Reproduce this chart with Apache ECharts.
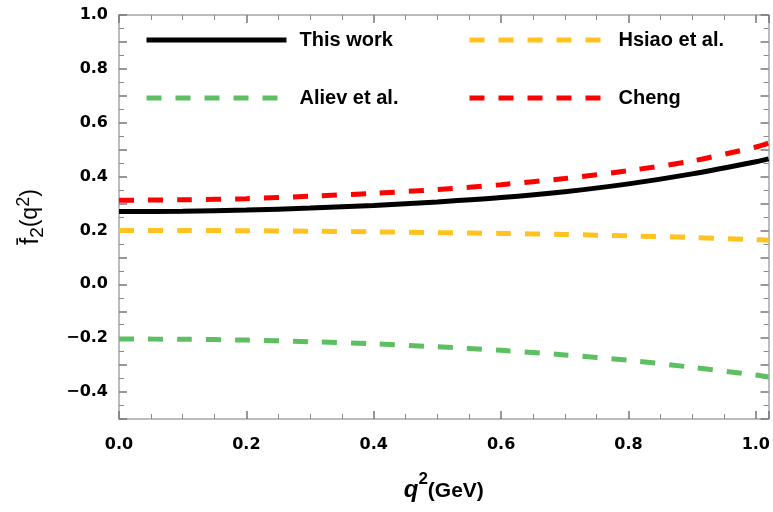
<!DOCTYPE html>
<html>
<head>
<meta charset="utf-8">
<script src="https://cdn.jsdelivr.net/npm/echarts@6/dist/echarts.min.js"></script>
<style>html,body{margin:0;padding:0;background:#fff;}#c{width:773px;height:512px;}</style>
</head>
<body>
<div id="c"></div>
<script>
// q^2 sample points (GeV)
const qValues   = [0, 0.1, 0.2, 0.3, 0.4, 0.5, 0.6, 0.7, 0.8, 0.9, 1.0, 1.02];
// f2-bar(q^2)
const thisWork  = [0.270, 0.271, 0.276, 0.283, 0.293, 0.306, 0.322, 0.344, 0.373, 0.410, 0.455, 0.466];
const hsiao     = [0.200, 0.200, 0.199, 0.197, 0.195, 0.192, 0.189, 0.185, 0.180, 0.174, 0.166, 0.164];
const aliev     = [-0.203, -0.204, -0.207, -0.213, -0.221, -0.232, -0.245, -0.262, -0.282, -0.308, -0.337, -0.344];
const cheng     = [0.312, 0.314, 0.318, 0.327, 0.338, 0.352, 0.370, 0.393, 0.422, 0.458, 0.510, 0.525];
const seriesNames = ['This work', 'Hsiao et al.', 'Aliev et al.', 'Cheng'];
const xTickLabels = ['0.0', '0.2', '0.4', '0.6', '0.8', '1.0'];
const yTickLabels = ['\u22120.4', '\u22120.2', '0.0', '0.2', '0.4', '0.6', '0.8', '1.0'];

const pairs = arr => qValues.map((q, i) => [q, arr[i]]);
const chart = echarts.init(document.getElementById('c'), null, {renderer: 'canvas'});

const frameLine = {show: true, onZero: false, lineStyle: {color: '#a6a6a6', width: 1.5}};
const tickStyle = {show: true, inside: true, length: 8, lineStyle: {color: '#777', width: 1.5}};
const minorStyle = {show: true, length: 5, lineStyle: {color: '#888', width: 1}};
const labelFont = {fontFamily: 'DejaVu Sans', fontWeight: 'bold', fontSize: 16, color: '#000'};

function xLabel(v) {
  const k = Math.round(v / 0.2);
  if (Math.abs(v - k * 0.2) > 1e-6) return '';
  return xTickLabels[k] || '';
}
function yLabel(v) {
  const k = Math.round(v / 0.2);
  if (Math.abs(v - k * 0.2) > 1e-6) return '';
  return yTickLabels[k + 2] || '';
}

const dashed = [15, 14];
const legendCommon = {
  orient: 'vertical', top: 30, padding: 0,
  itemWidth: 140, itemHeight: 20, itemGap: 38,
  itemStyle: {color: 'rgba(0,0,0,0)', borderWidth: 0, opacity: 0},
  lineStyle: {width: 5}
};
const option = {
  animation: false,
  backgroundColor: '#fff',
  grid: {left: 119, right: 3, top: 15, bottom: 93, containLabel: false},
  legend: [
    Object.assign({}, legendCommon, {
      data: [seriesNames[0], seriesNames[2]], left: 144,
      textStyle: {fontFamily: 'Liberation Sans', fontWeight: 'bold', fontSize: 20, lineHeight: 20, color: '#000', padding: [0, 0, 0, 8]}
    }),
    Object.assign({}, legendCommon, {
      data: [seriesNames[1], seriesNames[3]], left: 467,
      textStyle: {fontFamily: 'Liberation Sans', fontWeight: 'bold', fontSize: 20, lineHeight: 20, color: '#000', padding: [0, 0, 0, 4]}
    })
  ],
  xAxis: [
    {
      type: 'value', min: 0, max: 1.02, interval: 0.2, position: 'bottom',
      axisLine: frameLine, axisTick: tickStyle,
      minorTick: Object.assign({splitNumber: 4}, minorStyle),
      splitLine: {show: false}, minorSplitLine: {show: false},
      axisLabel: Object.assign({margin: 18, formatter: xLabel, showMaxLabel: false}, labelFont),
      name: '{q|q}{sup|2}{u|(GeV)}', nameLocation: 'middle', nameGap: 52,
      nameTextStyle: {
        rich: {
          q: {fontFamily: 'Liberation Sans', fontStyle: 'italic', fontWeight: 'bold', fontSize: 24, color: '#000', lineHeight: 31, verticalAlign: 'bottom'},
          sup: {fontFamily: 'Liberation Sans', fontWeight: 'bold', fontSize: 17, color: '#000', lineHeight: 31, verticalAlign: 'top'},
          u: {fontFamily: 'Liberation Sans', fontWeight: 'bold', fontSize: 21, color: '#000', lineHeight: 31, verticalAlign: 'bottom'}
        }
      }
    },
    {
      type: 'value', min: 0, max: 1.02, interval: 0.2, position: 'top',
      axisLine: frameLine, axisTick: tickStyle,
      minorTick: Object.assign({splitNumber: 4}, minorStyle),
      splitLine: {show: false}, axisLabel: {show: false}
    }
  ],
  yAxis: [
    {
      type: 'value', min: -0.5, max: 1.0, interval: 0.1, position: 'left',
      axisLine: frameLine, axisTick: tickStyle,
      minorTick: Object.assign({splitNumber: 2}, minorStyle),
      splitLine: {show: false}, minorSplitLine: {show: false},
      axisLabel: Object.assign({margin: 11, formatter: yLabel}, labelFont),
      name: '{f|f\u0304}{sub|2}{n|(q}{sup|2}{n|)}', nameLocation: 'middle', nameGap: 72, nameRotate: 90,
      nameTextStyle: {
        rich: {
          f: {fontFamily: 'Liberation Sans', fontSize: 25, color: '#000', lineHeight: 32, verticalAlign: 'middle'},
          sub: {fontFamily: 'Liberation Sans', fontSize: 19, color: '#000', lineHeight: 32, verticalAlign: 'bottom'},
          n: {fontFamily: 'Liberation Sans', fontSize: 23, color: '#000', lineHeight: 32, verticalAlign: 'middle'},
          sup: {fontFamily: 'Liberation Sans', fontSize: 18, color: '#000', lineHeight: 32, verticalAlign: 'top'}
        }
      }
    },
    {
      type: 'value', min: -0.5, max: 1.0, interval: 0.1, position: 'right',
      axisLine: frameLine, axisTick: tickStyle,
      minorTick: Object.assign({splitNumber: 2}, minorStyle),
      splitLine: {show: false}, axisLabel: {show: false}
    }
  ],
  series: [
    {name: seriesNames[2], type: 'line', data: pairs(aliev), symbol: 'none', smooth: 0.3,
     lineStyle: {color: '#5cc062', width: 5, type: dashed}, itemStyle: {color: '#5cc062'}},
    {name: seriesNames[1], type: 'line', data: pairs(hsiao), symbol: 'none', smooth: 0.3,
     lineStyle: {color: '#ffc21f', width: 5, type: dashed}, itemStyle: {color: '#ffc21f'}},
    {name: seriesNames[0], type: 'line', data: pairs(thisWork), symbol: 'none', smooth: 0.3,
     lineStyle: {color: '#000', width: 5, type: 'solid'}, itemStyle: {color: '#000'}},
    {name: seriesNames[3], type: 'line', data: pairs(cheng), symbol: 'none', smooth: 0.3,
     lineStyle: {color: '#ff0000', width: 5, type: dashed}, itemStyle: {color: '#ff0000'}}
  ]
};
chart.setOption(option);
</script>
</body>
</html>
